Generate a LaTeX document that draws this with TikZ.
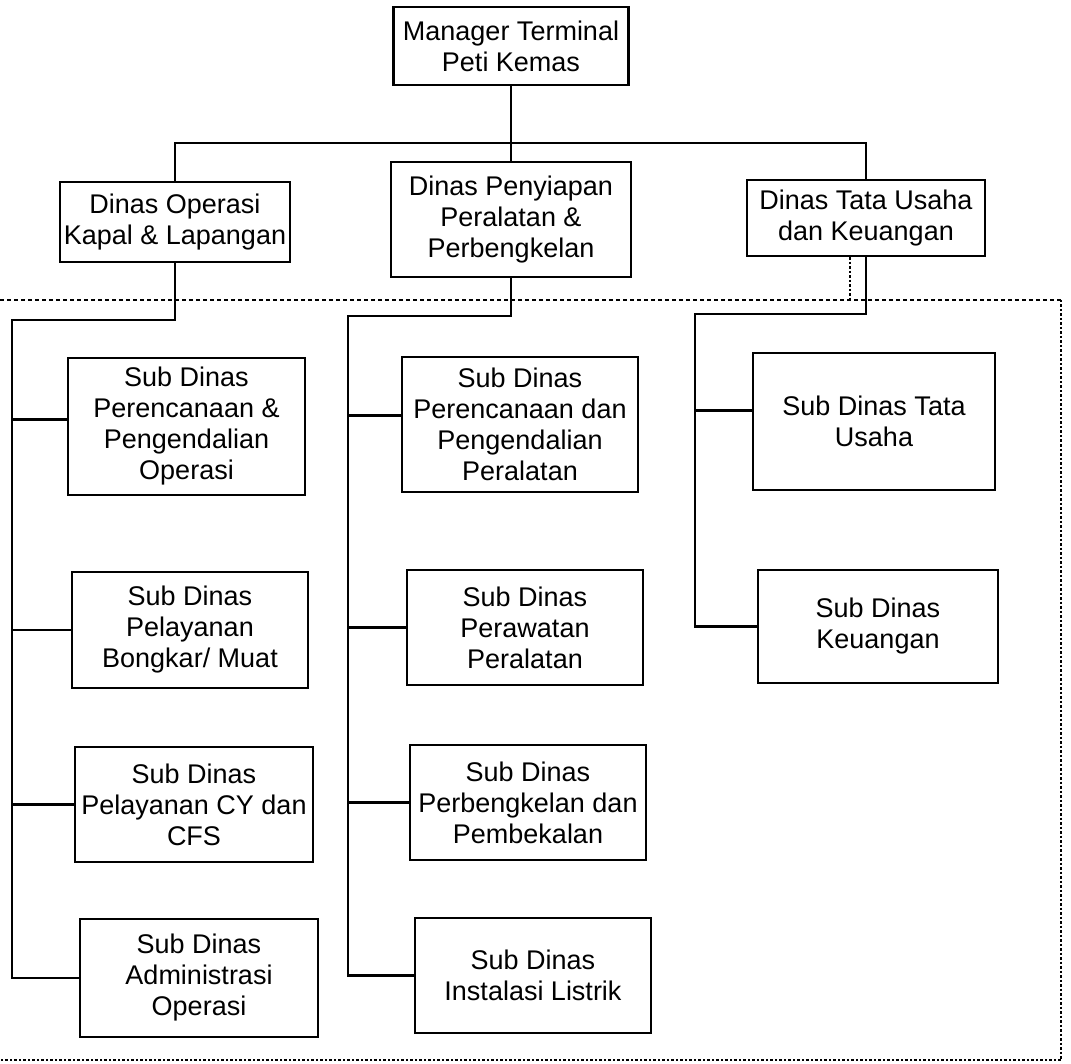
\documentclass[tikz,border=0pt]{standalone}
\usepackage{fontspec}
\setmainfont{Liberation Sans}
\tikzset{
  box/.style={draw, line width=2.5pt, align=center, inner sep=0pt,
    font=\fontsize{27}{31}\selectfont},
  conn/.style={line width=2.5pt},
  frametop/.style={line width=2.4pt, dash pattern=on 4pt off 3pt},
  frameside/.style={line width=2.8pt, dash pattern=on 2.5pt off 2pt},
}
\begin{document}
\begin{tikzpicture}[x=1pt,y=-1pt]
\useasboundingbox (0,0) rectangle (1071,1064);

% top level
\node[box, minimum width=235pt, minimum height=78pt] (mgr) at (511,46) {Manager Terminal\\Peti Kemas};
\node[box, minimum width=230pt, minimum height=80pt] (op) at (175,222) {Dinas Operasi\\Kapal \& Lapangan};
\node[box, minimum width=240pt, minimum height=115pt] (py) at (511,219.5) {Dinas Penyiapan\\Peralatan \&\\Perbengkelan};
\node[box, minimum width=238pt, minimum height=76pt] (tu) at (866,218) {Dinas Tata Usaha\\dan Keuangan};

% left column
\node[box, minimum width=237pt, minimum height=137pt] (l1) at (186.5,426.5) {Sub Dinas\\Perencanaan \&\\Pengendalian\\Operasi};
\node[box, minimum width=236pt, minimum height=116pt] (l2) at (190,630) {Sub Dinas\\Pelayanan\\Bongkar/ Muat};
\node[box, minimum width=238pt, minimum height=115pt] (l3) at (194,804.5) {Sub Dinas\\Pelayanan CY dan\\CFS};
\node[box, minimum width=238pt, minimum height=118pt] (l4) at (199,978) {Sub Dinas\\Administrasi\\Operasi};

% middle column
\node[box, minimum width=236pt, minimum height=135pt] (m1) at (520,424.5) {Sub Dinas\\Perencanaan dan\\Pengendalian\\Peralatan};
\node[box, minimum width=236pt, minimum height=115pt] (m2) at (525,627.5) {Sub Dinas\\Perawatan\\Peralatan};
\node[box, minimum width=236pt, minimum height=115pt] (m3) at (528,802.5) {Sub Dinas\\Perbengkelan dan\\Pembekalan};
\node[box, minimum width=236pt, minimum height=115pt] (m4) at (533,975.5) {Sub Dinas\\Instalasi Listrik};

% right column
\node[box, minimum width=242pt, minimum height=137pt] (r1) at (874,421.5) {Sub Dinas Tata\\Usaha};
\node[box, minimum width=240pt, minimum height=113pt] (r2) at (878,626.5) {Sub Dinas\\Keuangan};

% coordinates
\coordinate (bar) at (0,143);
\coordinate (ltop) at (12,320);
\coordinate (mtop) at (348,316);
\coordinate (rtop) at (695,314);
\coordinate (ftl) at (0,300);
\coordinate (ftr) at (1061,300);
\coordinate (fbr) at (1061,1060);
\coordinate (fbl) at (0,1060);

% top connectors
\draw[conn] (mgr.south) -- (py.north);
\draw[conn] (op.north) -- (op.north |- bar) -- (tu.north |- bar) -- (tu.north);

% left branch
\draw[conn] (op.south) |- (ltop) |- (l4.west);
\draw[conn] (ltop |- l1.west) ++(0,-7) -- ([yshift=7pt]l1.west);
\draw[conn] (ltop |- l2.west) -- (l2.west);
\draw[conn] (ltop |- l3.west) -- (l3.west);

% middle branch
\draw[conn] (py.south) |- (mtop) |- (m4.west);
\draw[conn] (mtop |- m1.west) ++(0,-9) -- ([yshift=9pt]m1.west);
\draw[conn] (mtop |- m2.west) -- (m2.west);
\draw[conn] (mtop |- m3.west) -- (m3.west);

% right branch
\draw[conn] (tu.south) |- (rtop) |- (r2.west);
\draw[conn] (rtop |- r1.west) ++(0,-11) -- ([yshift=11pt]r1.west);

% dotted frame
\draw[frametop] (ftl) -- (ftr);
\draw[frameside] (ftr) -- (fbr) -- (fbl);
\draw[frameside] ([xshift=-16pt]tu.south) -- ([xshift=-16pt]tu.south |- ftl);
\end{tikzpicture}
\end{document}
